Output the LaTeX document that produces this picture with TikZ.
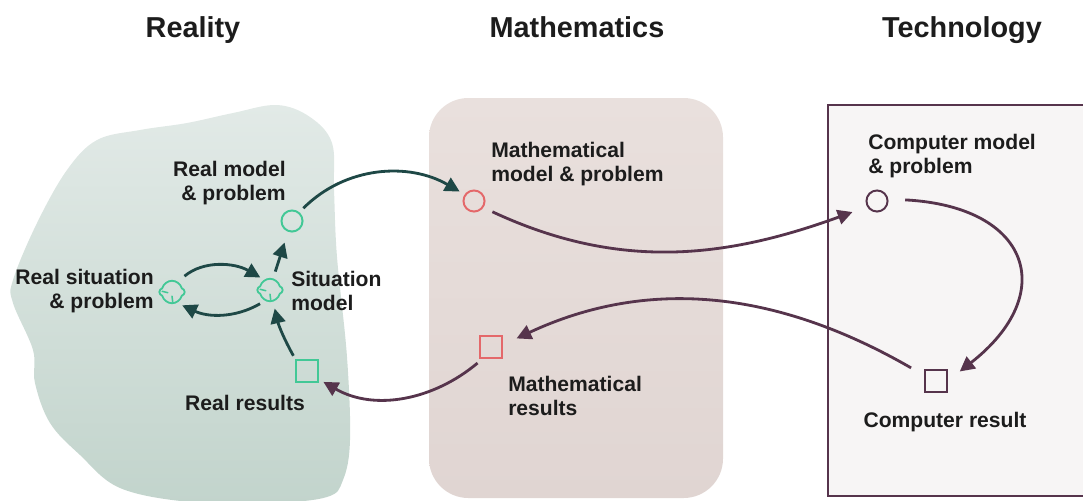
\documentclass[tikz,border=0pt]{standalone}
\usepackage{fontspec}
\setmainfont{Liberation Sans}
\usetikzlibrary{arrows.meta, positioning, shapes.symbols}
\definecolor{realgreen}{RGB}{66, 200, 150}
\definecolor{realdark}{RGB}{30, 72, 70}
\definecolor{techplum}{RGB}{86, 52, 76}
\definecolor{mathred}{RGB}{228, 104, 106}
\definecolor{inktext}{RGB}{28, 28, 28}
\definecolor{techfill}{RGB}{247, 245, 245}

\begin{document}
\begin{tikzpicture}[
    x=0.025cm, y=0.025cm,
    headline/.style={font=\fontsize{20.5}{24}\selectfont\bfseries, text=inktext, anchor=base},
    txt/.style={font=\fontsize{15}{17.7}\selectfont\bfseries, text=inktext, inner sep=0pt},
    circ/.style={circle, draw, line width=1.4pt, minimum size=15pt, inner sep=0pt},
    sq/.style={rectangle, draw, line width=1.4pt, minimum size=15pt, inner sep=0pt},
    cloudicon/.style={cloud, cloud puffs=4, draw=realgreen, line width=1.3pt, minimum width=18pt, minimum height=16pt, inner sep=0pt, aspect=1, shape border rotate=45,
        path picture={\draw[realgreen, line width=1.1pt, line cap=round]
            ([xshift=-7pt, yshift=0.5pt]path picture bounding box.center) -- ([xshift=-3pt, yshift=-0.5pt]path picture bounding box.center)
            ([xshift=0.5pt, yshift=-7pt]path picture bounding box.center) -- ([xshift=0pt, yshift=-3pt]path picture bounding box.center);}},
    greenarrow/.style={-{Triangle[length=10.5pt, width=10.5pt]}, line width=2pt, realdark},
    plumarrow/.style={-{Triangle[length=10.5pt, width=10.5pt]}, line width=2pt, techplum}
]
    \useasboundingbox (0,0) rectangle (1083,-500);
    \clip (0,0) rectangle (1083,-500);

    % Backgrounds
    \path[top color={rgb,255:red,226;green,234;blue,231}, bottom color={rgb,255:red,194;green,212;blue,204}]
        plot[smooth cycle, tension=0.6] coordinates {(97,-140) (140,-130) (187,-123) (233,-113) (277,-105) (310,-117) (332,-143) (334,-190) (337,-257) (347,-357) (350,-440) (343,-480) (327,-497) (270,-503) (190,-502) (120,-488) (80,-455) (50,-423) (35,-383) (33,-350) (13,-303) (13,-280) (37,-223) (67,-170)};
    \path[rounded corners=28pt, top color={rgb,255:red,233;green,224;blue,221}, bottom color={rgb,255:red,224;green,213;blue,210}]
        (429,-98) rectangle (723,-498);
    \fill[techfill] (828,-105) rectangle (1110,-496);
    \draw[techplum, line width=1pt] (1110,-105) -- (828,-105) -- (828,-496) -- (1110,-496);

    % Titles
    \node[headline] (reality) at (193,-37) {Reality};
    \node[headline] (maths) at (577,-37) {Mathematics};
    \node[headline] (tech) at (962,-37) {Technology};

    % Reality
    \node[circ, draw=realgreen] (rmodel) at (292,-221) {};
    \node[cloudicon] (sitmodel) at (270,-290) {};
    \node[cloudicon] (realsit) at (172,-292) {};
    \node[sq, draw=realgreen] (rresult) at (307,-371) {};
    \node[txt, anchor=east, align=right] (rmodeltxt) at (286,-183) {Real model\\\& problem};
    \node[txt, anchor=east, align=right] (realsittxt) at (154,-291) {Real situation\\\& problem};
    \node[txt, anchor=west, align=left] (sitmodeltxt) at (291,-291) {Situation\\model};
    \node[txt] (rresulttxt) at (245,-403) {Real results};

    % Mathematics
    \node[circ, draw=mathred] (mmodel) at (474,-201) {};
    \node[sq, draw=mathred] (mresult) at (491,-347) {};
    \node[txt, anchor=west, align=left] (mmodeltxt) at (491,-164) {Mathematical\\model \& problem};
    \node[txt, anchor=west, align=left] (mresulttxt) at (508,-396) {Mathematical\\results};

    % Technology
    \node[circ, draw=techplum] (cmodel) at (877,-201) {};
    \node[sq, draw=techplum] (cresult) at (936,-381) {};
    \node[txt, anchor=west, align=left] (cmodeltxt) at (868,-156) {Computer model\\\& problem};
    \node[txt] (cresulttxt) at (945,-422) {Computer result};

    % Cycle
    \draw[greenarrow, shorten <=4pt, shorten >=4pt] (rmodel.50) to[out=45, in=150] (mmodel.145);
    \draw[plumarrow, shorten <=7pt, shorten >=11pt] (mmodel.-35) to[out=-25, in=200] (cmodel.210);
    \draw[plumarrow, shorten <=12pt, shorten >=11pt] (cmodel.10) to[out=-3, in=38, looseness=1.9] (cresult.0);
    \draw[plumarrow, shorten <=11pt, shorten >=11pt] (cresult.155) to[out=150, in=25] (mresult.10);
    \draw[plumarrow, shorten <=5pt, shorten >=4pt] (mresult.-125) to[out=-140, in=-30] (rresult.-35);
    \draw[greenarrow, shorten <=3pt, shorten >=5pt] (rresult.135) to[bend left=8] (sitmodel.-75);
    \draw[greenarrow, shorten <=5pt, shorten >=8pt] (sitmodel.75) -- (rmodel.250);
    \draw[greenarrow, shorten <=6pt, shorten >=3pt] (realsit.60) to[out=40, in=150] (sitmodel.120);
    \draw[greenarrow, shorten <=4pt, shorten >=4pt] (sitmodel.-115) to[out=-150, in=-25] (realsit.-65);

\end{tikzpicture}
\end{document}
